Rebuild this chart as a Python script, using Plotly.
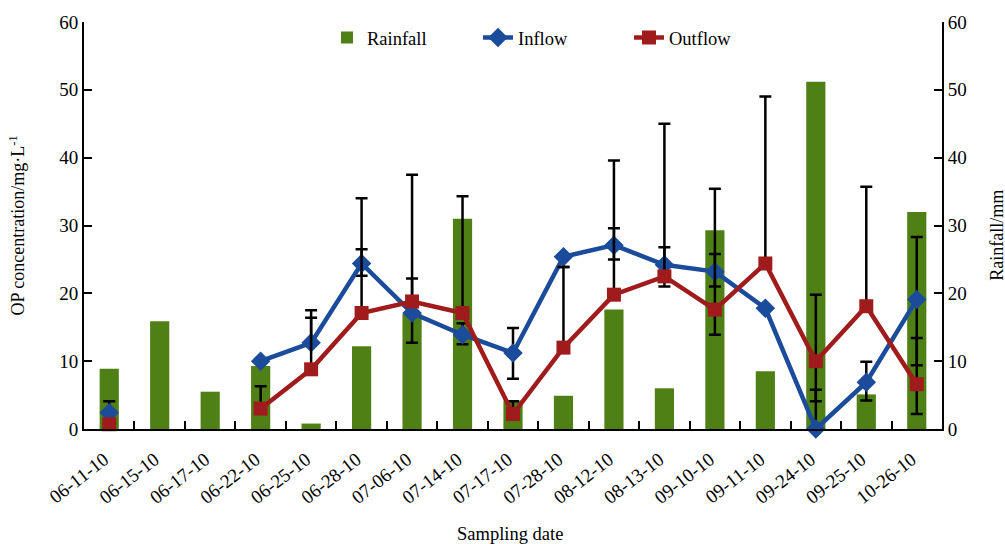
import plotly.graph_objects as go

dates = ["06-11-10", "06-15-10", "06-17-10", "06-22-10", "06-25-10", "06-28-10",
         "07-06-10", "07-14-10", "07-17-10", "07-28-10", "08-12-10", "08-13-10",
         "09-10-10", "09-11-10", "09-24-10", "09-25-10", "10-26-10"]

rainfall = [8.9, 15.9, 5.5, 9.3, 0.8, 12.2, 17.0, 31.0, 4.2, 4.9, 17.6, 6.0,
            29.3, 8.5, 51.2, 5.1, 32.0]

inflow = [2.4, None, None, 10.0, 12.7, 24.4, 17.1, 13.9, 11.2, 25.4, 27.1, 24.2,
          23.2, 17.8, 0.0, 6.9, 19.1]
inflow_err_plus = [1.7, 0, 0, 0, 3.7, 9.6, 20.4, 1.7, 3.7, 0, 12.5, 20.8,
                   12.2, 0, 5.8, 3.0, 9.2]
inflow_err_minus = [0, 0, 0, 0, 0, 1.8, 4.4, 1.4, 3.8, 1.5, 2.1, 0,
                    2.2, 0, 0, 2.7, 9.7]

outflow = [0.7, None, None, 3.0, 8.8, 17.1, 18.8, 17.1, 2.2, 12.0, 19.8, 22.5,
           17.6, 24.4, 10.0, 18.1, 6.6]
outflow_err_plus = [0, 0, 0, 3.3, 8.7, 9.4, 3.4, 17.2, 1.9, 11.9, 9.8, 4.3,
                    8.2, 24.6, 9.8, 17.6, 6.8]
outflow_err_minus = [0, 0, 0, 0, 0, 0, 0, 0, 0, 0, 0, 1.5,
                     3.7, 0, 5.9, 0, 4.4]

y_ticks = [0, 10, 20, 30, 40, 50, 60]

GREEN = "#4e8016"
BLUE = "#1b4b9b"
RED = "#a01c1c"
FONT = "Liberation Serif"

fig = go.Figure()

fig.add_trace(go.Bar(
    x=dates, y=rainfall, name="Rainfall", marker=dict(color=GREEN, line=dict(width=0)),
    yaxis="y", showlegend=True,
))

err_style = dict(type="data", symmetric=False, color="black", thickness=2.5, width=6, visible=True)

fig.add_trace(go.Scatter(
    x=dates, y=inflow, name="Inflow", mode="lines+markers", yaxis="y2",
    line=dict(color=BLUE, width=4.5),
    marker=dict(symbol="diamond", size=15, color=BLUE),
    error_y=dict(array=inflow_err_plus, arrayminus=inflow_err_minus, **err_style),
    connectgaps=False, cliponaxis=False,
))

fig.add_trace(go.Scatter(
    x=dates, y=outflow, name="Outflow", mode="lines+markers", yaxis="y2",
    line=dict(color=RED, width=4.5),
    marker=dict(symbol="square", size=14, color=RED),
    error_y=dict(array=outflow_err_plus, arrayminus=outflow_err_minus, **err_style),
    connectgaps=False, cliponaxis=False,
))

axis_common = dict(
    range=[0, 60], tickvals=y_ticks, ticks="inside", ticklen=8, tickwidth=2,
    tickcolor="black", showline=True, linecolor="black", linewidth=2,
    showgrid=False, zeroline=False, automargin=False,
    tickfont=dict(family=FONT, size=19, color="black"),
)

fig.update_layout(
    width=1005, height=544,
    margin=dict(l=84, r=63, t=22, b=115, autoexpand=False),
    paper_bgcolor="white", plot_bgcolor="white",
    font=dict(family=FONT, size=18, color="black"),
    bargap=0.62,
    xaxis=dict(
        type="category", range=[-0.5, len(dates) - 0.5],
        showline=True, linecolor="black", linewidth=2,
        ticks="inside", tickson="boundaries", ticklen=8, tickwidth=2, tickcolor="black",
        tickangle=-38, showgrid=False, automargin=False,
        ticklabelstandoff=10, ticklabelshift=-5,
        tickfont=dict(family=FONT, size=19, color="black"),
    ),
    yaxis=dict(side="right", **axis_common),
    yaxis2=dict(side="left", overlaying="y", **axis_common),
    legend=dict(
        orientation="h", x=(327 - 84) / 858, xanchor="left", y=0.961, yanchor="middle",
        font=dict(family=FONT, size=18.5, color="black"), bgcolor="rgba(0,0,0,0)",
        traceorder="normal", entrywidth=106,
    ),
    annotations=[
        dict(text="OP concentration/mg·L<sup>-1</sup>", xref="paper", yref="paper",
             x=-0.078, y=0.5, textangle=-90, showarrow=False, xanchor="center",
             yanchor="middle", font=dict(family=FONT, size=18, color="black")),
        dict(text="Rainfall/mm", xref="paper", yref="paper",
             x=1.064, y=0.477, textangle=-90, showarrow=False, xanchor="center",
             yanchor="middle", font=dict(family=FONT, size=18, color="black")),
        dict(text="Sampling date", xref="paper", yref="paper",
             x=0.497, y=-0.257, showarrow=False, xanchor="center",
             yanchor="middle", font=dict(family=FONT, size=18.5, color="black")),
    ],
)

fig.write_html("out.html", config={"displayModeBar": False},
               post_script="document.body.style.margin='0';")
